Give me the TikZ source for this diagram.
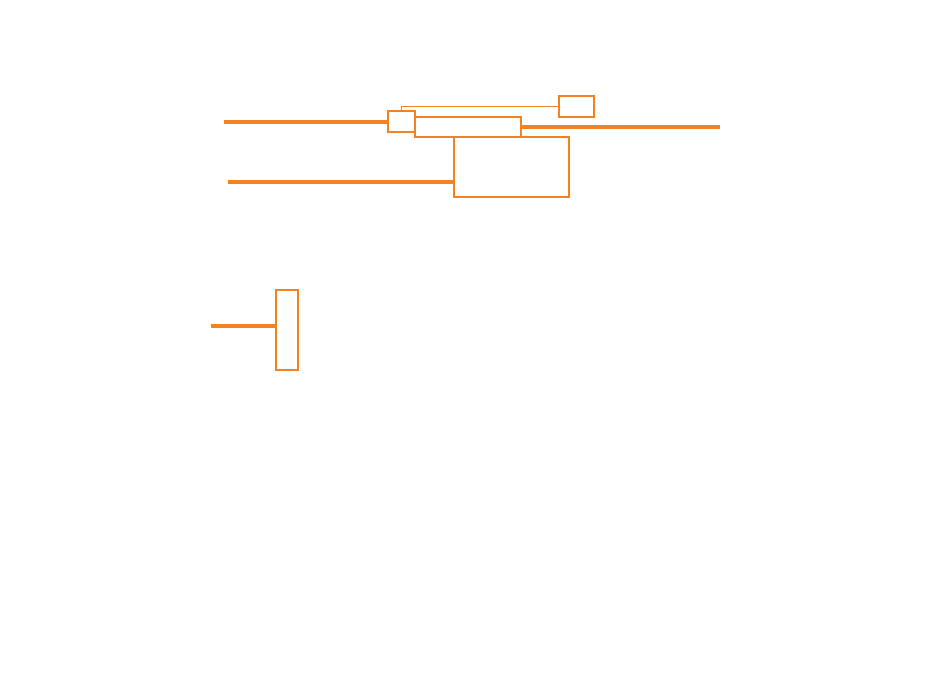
\documentclass[tikz,border=0pt]{standalone}
\begin{document}
\begin{tikzpicture}[x=1pt,y=-1pt,
  every node/.style={inner sep=0pt,outer sep=0pt},
  obox/.style={draw=orng,line width=2.6pt,fill=white,rectangle},
  thickline/.style={draw=orng,line width=3.6pt},
  thinline/.style={draw=orng,line width=1pt}]
\definecolor{orng}{RGB}{245,130,32}
\useasboundingbox (0,0) rectangle (944,681);
\node[obox,minimum width=27pt,minimum height=21pt] (A) at (401.5,121.5) {};
\node[obox,minimum width=106pt,minimum height=20pt] (B) at (468,127) {};
\node[obox,minimum width=115pt,minimum height=60pt] (C) at (511.5,167) {};
\node[obox,minimum width=35pt,minimum height=21pt] (D) at (576.5,106.5) {};
\node[obox,minimum width=22pt,minimum height=80pt] (E) at (287,330) {};
\coordinate (l1) at (224,122);
\coordinate (l2) at (720,127);
\coordinate (l3) at (228,182);
\coordinate (l4) at (211,326);
\draw[thickline] (l1) -- (l1 -| A.west);
\draw[thickline] (B.east) -- (l2);
\draw[thickline] (l3) -- (l3 -| C.west);
\draw[thickline] (l4) -- (l4 -| E.west);
\draw[thinline] (A.north) |- (D.west);
\end{tikzpicture}
\end{document}
